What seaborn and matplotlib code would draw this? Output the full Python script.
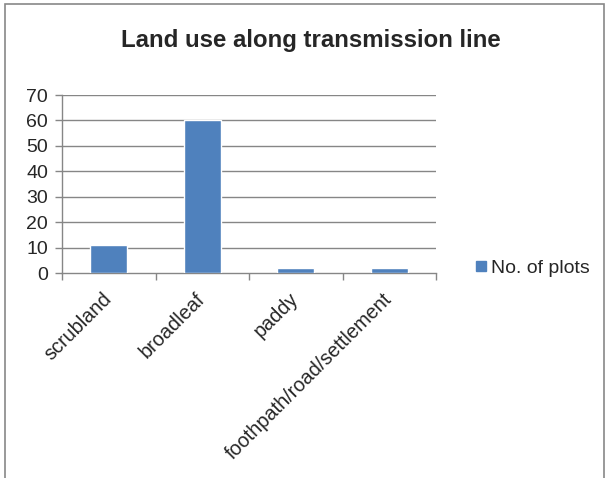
import matplotlib
matplotlib.use("Agg")
import matplotlib.pyplot as plt
import matplotlib.transforms as mtransforms
import seaborn as sns
import pandas as pd
from matplotlib.patches import Rectangle
from matplotlib.lines import Line2D

categories = ["scrubland", "broadleaf", "paddy", "foothpath/road/settlement"]
values = [11, 60, 2, 2]
series_name = "No. of plots"
title = "Land use along transmission line"
yticks = [0, 10, 20, 30, 40, 50, 60, 70]

sns.set_theme(style="white")
plt.rcParams['font.family'] = ['Liberation Sans', 'DejaVu Sans']

df = pd.DataFrame({"category": categories, "value": values})

fig = plt.figure(figsize=(6.08, 4.78), dpi=100)
ax = fig.add_axes([62/608, 1-273/478, (436-62)/608, (273-95)/478])

sns.barplot(data=df, x="category", y="value", color="#4F81BD", width=0.4,
            saturation=1, ax=ax, zorder=3)

grid_c = "#868686"
ax.set_ylim(0, 70)
ax.set_xlim(-0.5, len(categories) - 0.5)
ax.set_yticks(yticks)
ax.set_yticklabels([str(v) for v in yticks], fontsize=14)
for y in yticks[1:]:
    ax.axhline(y, color=grid_c, lw=1, zorder=1)
ax.set_xticks(range(len(categories)))
ax.set_xticklabels(categories, rotation=45, ha="right", rotation_mode="anchor", fontsize=14.3)
ax.tick_params(axis="x", which="major", length=0, pad=8)
offset = mtransforms.ScaledTranslation(-7/100, -5/100, fig.dpi_scale_trans)
for lbl in ax.get_xticklabels():
    lbl.set_transform(lbl.get_transform() + offset)
ax.set_xticks([i - 0.5 for i in range(len(categories) + 1)], minor=True)
ax.tick_params(axis="x", which="minor", length=5, color=grid_c, width=1, direction="out", bottom=True)
ax.tick_params(axis="y", length=5, color=grid_c, width=1, direction="out", left=True, pad=5)
ax.set_xlabel("")
ax.set_ylabel("")
for s in ["top", "right"]:
    ax.spines[s].set_visible(False)
for s in ["left", "bottom"]:
    ax.spines[s].set_color(grid_c)
    ax.spines[s].set_linewidth(1)

fig.text(311/608, 1-41/478, title, ha="center", va="center", fontsize=17.3, fontweight="bold")

handle = Line2D([], [], marker="s", linestyle="none", markersize=6.5, color="#4F81BD")
fig.legend([handle], [series_name], loc="center left", bbox_to_anchor=(463/608, 1-268/478),
           frameon=False, fontsize=14, handletextpad=0.05, handlelength=1.0, borderaxespad=0)

fig.patches.append(Rectangle((5/608, -0.1), 599/608, 1.1 - 4/478, transform=fig.transFigure,
                             fill=False, edgecolor="#888888", lw=1.2))

fig.savefig("out.png", dpi=100)
